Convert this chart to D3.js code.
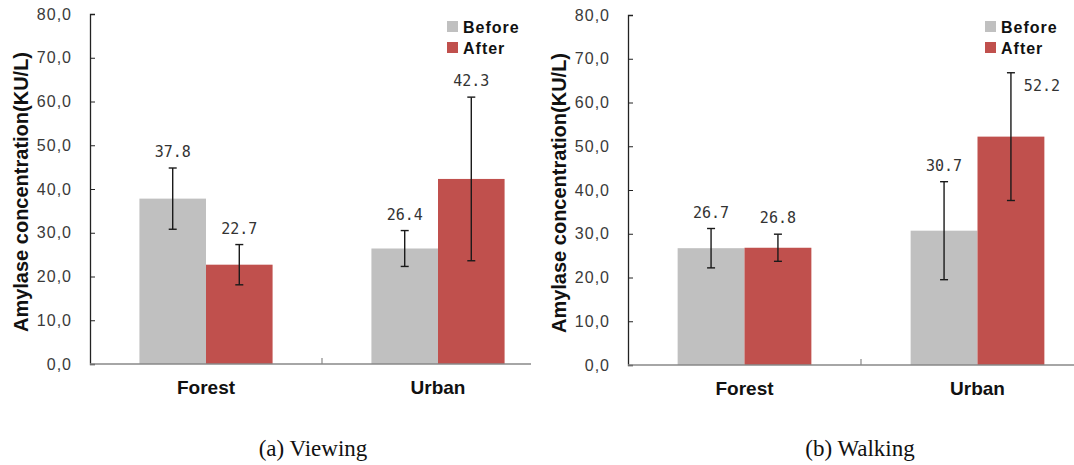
<!DOCTYPE html>
<html lang="en">
  <head>
    <meta charset="UTF-8">
    <title>Amylase concentration</title>
    <script src="https://cdn.jsdelivr.net/npm/d3@7"></script>
    <style>
      html, body {
        margin: 0;
        padding: 0;
        background: #fff;
      }
      .tick-label {
        font-family: Arial, 'Liberation Sans', sans-serif;
        font-size: 16px;
        letter-spacing: 1px;
        fill: #3a3a3a;
      }
      .value-label {
        font-family: 'DejaVu Sans Mono', monospace;
        font-size: 15px;
        fill: #333;
      }
      .cat-label {
        font-family: Arial, 'Liberation Sans', sans-serif;
        font-size: 19px;
        font-weight: bold;
        fill: #111;
      }
      .legend-text {
        font-family: Arial, 'Liberation Sans', sans-serif;
        font-size: 16px;
        font-weight: bold;
        letter-spacing: 1px;
        fill: #111;
      }
      .y-title {
        font-family: Arial, 'Liberation Sans', sans-serif;
        font-size: 20px;
        font-weight: bold;
        fill: #111;
      }
      .caption {
        font-family: 'Liberation Serif', 'Times New Roman', serif;
        font-size: 23px;
        fill: #111;
      }
    </style>
  </head>
  <body>
    <svg id="chart" width="1074" height="465"></svg>
    <script>
      // data
      const categories = ["Forest", "Urban"];
      const series = ["Before", "After"];
      const colors = ["#c0c0c0", "#c0504d"];
      const yTicks = [0, 10, 20, 30, 40, 50, 60, 70, 80];

      const viewingBefore = [37.8, 26.4];
      const viewingAfter = [22.7, 42.3];
      const viewingBeforeErr = [7.0, 4.1];
      const viewingAfterErr = [4.6, 18.7];

      const walkingBefore = [26.7, 30.7];
      const walkingAfter = [26.8, 52.2];
      const walkingBeforeErr = [4.5, 11.2];
      const walkingAfterErr = [3.1, 14.6];

      const svg = d3.select("#chart");

      function drawPanel(opts) {
        const g = svg.append("g");
        const y = d3.scaleLinear().domain([0, 80]).range([opts.bottom, opts.top]);
        const x0 = d3.scaleBand().domain(categories).range([opts.left, opts.left + 2 * opts.band]);
        const bw = x0.bandwidth();
        const x1 = d3.scaleBand().domain(series).range([bw * 0.213, bw * 0.787]);

        const rows = [];
        categories.forEach((c, i) => {
          rows.push({ cat: c, s: series[0], v: opts.before[i], e: opts.beforeErr[i], color: colors[0] });
          rows.push({ cat: c, s: series[1], v: opts.after[i], e: opts.afterErr[i], color: colors[1] });
        });

        // bars
        g.selectAll("rect.bar")
          .data(rows)
          .enter()
          .append("rect")
          .attr("class", "bar")
          .attr("x", d => x0(d.cat) + x1(d.s))
          .attr("y", d => y(d.v))
          .attr("width", x1.bandwidth())
          .attr("height", d => y(0) - y(d.v))
          .attr("fill", d => d.color);

        // error bars
        const eb = g.selectAll("g.err")
          .data(rows)
          .enter()
          .append("g")
          .attr("class", "err")
          .attr("stroke", "#1a1a1a")
          .attr("stroke-width", 1.4);
        const cx = d => x0(d.cat) + x1(d.s) + x1.bandwidth() / 2;
        eb.append("line")
          .attr("x1", cx).attr("x2", cx)
          .attr("y1", d => y(d.v + d.e)).attr("y2", d => y(d.v - d.e));
        eb.append("line")
          .attr("x1", d => cx(d) - 4).attr("x2", d => cx(d) + 4)
          .attr("y1", d => y(d.v + d.e)).attr("y2", d => y(d.v + d.e));
        eb.append("line")
          .attr("x1", d => cx(d) - 4).attr("x2", d => cx(d) + 4)
          .attr("y1", d => y(d.v - d.e)).attr("y2", d => y(d.v - d.e));

        // value labels (moved beside the error bar if they would hit the legend)
        g.selectAll("text.value-label")
          .data(rows)
          .enter()
          .append("text")
          .attr("class", "value-label")
          .attr("text-anchor", "middle")
          .each(function(d) {
            let ly = y(d.v + d.e) - 11;
            let lx = cx(d);
            if (ly < 70) {
              lx = cx(d) + 31;
              ly = y(d.v + d.e) + 18;
            }
            d3.select(this).attr("x", lx).attr("y", ly);
          })
          .text(d => d.v.toFixed(1));

        // y axis
        const yAxis = d3.axisLeft(y)
          .tickValues(yTicks)
          .tickSize(-5)
          .tickPadding(18)
          .tickFormat(d => d.toFixed(1).replace(".", ","));
        const ya = g.append("g")
          .attr("transform", `translate(${opts.left},0)`)
          .call(yAxis);
        ya.select(".domain").attr("stroke", "#222").attr("stroke-width", 1.3);
        ya.selectAll(".tick line").attr("stroke", "#222");
        ya.selectAll(".tick text").attr("class", "tick-label").attr("font-size", null).attr("font-family", null).attr("fill", null);

        // x axis
        g.append("line")
          .attr("x1", opts.left).attr("x2", opts.axisEnd)
          .attr("y1", y(0)).attr("y2", y(0))
          .attr("stroke", "#888").attr("stroke-width", 1.5);
        g.append("line")
          .attr("x1", x0(categories[1])).attr("x2", x0(categories[1]))
          .attr("y1", y(0)).attr("y2", y(0) - 6)
          .attr("stroke", "#888").attr("stroke-width", 1.2);

        g.selectAll("text.cat-label")
          .data(categories)
          .enter()
          .append("text")
          .attr("class", "cat-label")
          .attr("text-anchor", "middle")
          .attr("x", d => x0(d) + bw / 2)
          .attr("y", y(0) + 30)
          .text(d => d);

        // y title
        g.append("text")
          .attr("class", "y-title")
          .attr("text-anchor", "middle")
          .attr("transform", `translate(${opts.left - 62},${(opts.top + opts.bottom) / 2 + 3}) rotate(-90)`)
          .text("Amylase concentration(KU/L)");

        // legend
        const lg = g.append("g")
          .attr("transform", `translate(${opts.legendX},21)`);
        series.forEach((s, i) => {
          lg.append("rect")
            .attr("x", 0).attr("y", i * 21)
            .attr("width", 11).attr("height", 11)
            .attr("fill", colors[i]);
          lg.append("text")
            .attr("class", "legend-text")
            .attr("x", 16).attr("y", i * 21 + 12)
            .text(s);
        });

        // caption
        svg.append("text")
          .attr("class", "caption")
          .attr("text-anchor", "middle")
          .attr("x", opts.captionX)
          .attr("y", 456)
          .text(opts.caption);
      }

      drawPanel({
        left: 90, band: 232, top: 14, bottom: 364, axisEnd: 531,
        before: viewingBefore, after: viewingAfter,
        beforeErr: viewingBeforeErr, afterErr: viewingAfterErr,
        legendX: 447, captionX: 313, caption: "(a) Viewing"
      });
      drawPanel({
        left: 628, band: 233, top: 15, bottom: 365, axisEnd: 1074,
        before: walkingBefore, after: walkingAfter,
        beforeErr: walkingBeforeErr, afterErr: walkingAfterErr,
        legendX: 985, captionX: 860, caption: "(b) Walking"
      });
    </script>
  </body>
</html>
